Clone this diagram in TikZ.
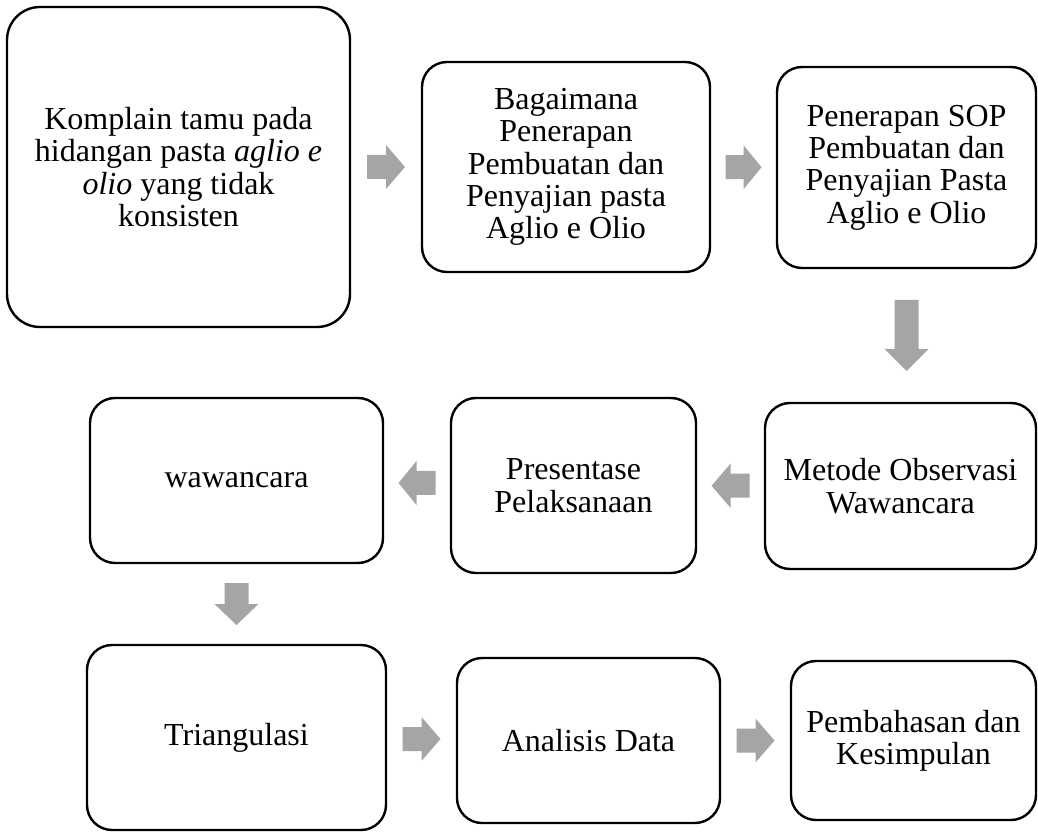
\documentclass[tikz,border=0pt]{standalone}
\usepackage{fontspec}
\setmainfont{Liberation Serif}
\usepackage{xcolor}
\usetikzlibrary{calc}
\definecolor{arrowgray}{HTML}{A5A5A5}
\tikzset{kotak/.style={draw, line width=1.2pt, rounded corners=12.5pt, align=center, inner sep=0pt, font=\fontsize{16}{16.2}\selectfont}}
\newcommand{\blockarrow}[4]{\fill[arrowgray, shift={#1}, rotate=#2] (-#3,-12) -- (#3-#4,-12) -- (#3-#4,-22) -- (#3,0) -- (#3-#4,22) -- (#3-#4,12) -- (-#3,12) -- cycle;}

\begin{document}
\begin{tikzpicture}[x=0.5pt, y=-0.5pt]
\useasboundingbox (0,0) rectangle (1038,833);
\node[kotak, rounded corners=16.5pt, minimum width=171.5pt, minimum height=160pt] (b1) at (178.5,167) {Komplain tamu pada\\hidangan pasta \textit{aglio e}\\\textit{olio} yang tidak\\konsisten};
\node[kotak, minimum width=144pt, minimum height=105pt] (b2) at (566,167) {Bagaimana\\Penerapan\\Pembuatan dan\\Penyajian pasta\\Aglio e Olio};
\node[kotak, minimum width=129.5pt, minimum height=100.5pt] (b3) at (906.5,167.5) {Penerapan SOP\\Pembuatan dan\\Penyajian Pasta\\Aglio e Olio};
\node[kotak, minimum width=135.5pt, minimum height=83pt] (b4) at (900.5,486) {Metode Observasi\\Wawancara};
\node[kotak, minimum width=122.5pt, minimum height=87.5pt] (b5) at (573.5,485.5) {Presentase\\Pelaksanaan};
\node[kotak, minimum width=146.5pt, minimum height=82.5pt] (b6) at (236.5,480.5) {wawancara};
\node[kotak, minimum width=149.5pt, minimum height=92.5pt] (b7) at (236.5,737.5) {Triangulasi};
\node[kotak, minimum width=131.5pt, minimum height=82.5pt] (b8) at (588.5,740.5) {Analisis Data};
\node[kotak, minimum width=122.5pt, minimum height=79.5pt] (b9) at (913.5,740.5) {Pembahasan dan\\Kesimpulan};

\coordinate (p12) at ($(b1.east)!0.5!(b2.west)$);
\coordinate (p23) at ($(b2.east)!0.5!(b3.west)$);
\coordinate (p34) at ($(b3.south)!0.5!(b3.south |- b4.north)$);
\coordinate (p45) at ($(b4.west)!0.5!(b5.east)$);
\coordinate (p56) at ($(b5.west)!0.5!(b6.east)$);
\coordinate (p67) at ($(b6.south)!0.5!(b7.north)$);
\coordinate (p78) at ($(b7.east)!0.5!(b8.west)$);
\coordinate (p89) at ($(b8.east)!0.5!(b9.west)$);

\blockarrow{(p12)}{0}{19}{19}
\blockarrow{(p23)}{0}{18}{18}
\blockarrow{(p34)}{-90}{35.5}{22}
\blockarrow{(p45)}{180}{19}{19}
\blockarrow{(p56)}{180}{18.5}{18}
\blockarrow{(p67)}{-90}{21}{21}
\blockarrow{(p78)}{0}{19}{19}
\blockarrow{(p89)}{0}{19}{19}
\end{tikzpicture}
\end{document}
